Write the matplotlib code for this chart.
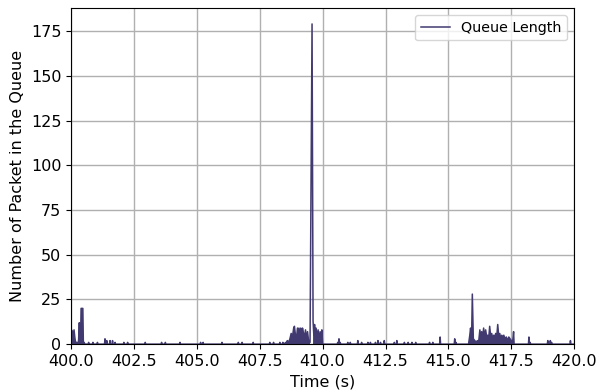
import numpy as np
import matplotlib
matplotlib.use("Agg")
import matplotlib.pyplot as plt

plt.rcParams["font.size"] = 11.5

# bursts of queue activity (time in s, queue length in packets)
burst_t = [
    400.00, 400.02, 400.05, 400.08, 400.12, 400.15, 400.18, 400.22, 400.26,
    400.30, 400.33, 400.35, 400.38, 400.40, 400.47, 400.49, 400.52, 400.55,
    408.55, 408.60, 408.65, 408.70, 408.75, 408.80, 408.85, 408.88, 408.92,
    408.96, 409.00, 409.03, 409.06, 409.10, 409.13, 409.17, 409.20, 409.24,
    409.28, 409.32, 409.36, 409.40, 409.44, 409.50, 409.58, 409.62, 409.65,
    409.68, 409.71, 409.74, 409.78, 409.82, 409.86, 409.90, 409.94, 409.97,
    410.00,
    415.80, 415.85, 415.88, 415.92, 415.95, 415.99, 416.05, 416.10, 416.15,
    416.20, 416.25, 416.28, 416.32, 416.36, 416.40, 416.44, 416.48, 416.52,
    416.56, 416.60, 416.64, 416.68, 416.72, 416.76, 416.80, 416.84, 416.88,
    416.92, 416.96, 417.00, 417.04, 417.08, 417.12, 417.16, 417.20, 417.25,
    417.30, 417.35, 417.40, 417.45, 417.50, 417.55, 417.59, 417.61,
]
burst_q = [
    6, 8, 7, 5, 8, 4, 1, 1, 0,
    2, 12, 3, 1, 20, 20, 1, 1, 0,
    1, 2, 1, 3, 6, 4, 9, 10, 5,
    3, 9, 4, 9, 5, 9, 3, 9, 6,
    4, 8, 2, 7, 2, 1, 179, 13, 5,
    11, 4, 9, 3, 8, 2, 7, 2, 8,
    0,
    0, 5, 9, 2, 28, 3, 2, 1, 2,
    1, 8, 3, 7, 4, 9, 3, 8, 4,
    5, 3, 10, 4, 6, 3, 5, 4, 6,
    4, 11, 4, 6, 3, 5, 4, 5, 3,
    4, 2, 4, 3, 2, 1, 7, 0,
]

# isolated small blips between the bursts
blip_t = [
    400.70, 400.87, 401.05, 401.35, 401.42, 401.55, 401.65, 401.75, 402.10,
    402.25, 402.95, 403.60, 403.75, 404.33, 405.15, 405.25, 406.00, 406.65,
    406.80, 407.24, 407.90, 408.05, 408.30, 408.42,
    410.60, 410.65, 410.70, 411.00, 411.10, 411.40, 411.55, 411.80, 411.90,
    412.10, 412.20, 412.30, 412.45, 412.85, 412.95, 413.25, 413.40, 413.55,
    413.70, 414.25, 414.38, 414.67, 415.25, 415.30,
    418.20, 418.25, 418.95, 419.05, 419.10, 419.85,
]
blip_q = [
    1, 1, 1, 3, 2, 2, 2, 1, 1,
    1, 1, 1, 1, 1, 1, 1, 1, 1,
    1, 1, 1, 1, 1, 1,
    1, 3, 1, 1, 1, 2, 1, 1, 1,
    1, 2, 1, 2, 1, 2, 1, 1, 1,
    1, 1, 1, 4, 3, 1,
    4, 1, 2, 2, 1, 2,
]

pts = list(zip(burst_t, burst_q))
for t, q in zip(blip_t, blip_q):
    pts += [(t - 0.02, 0), (t, q), (t + 0.02, 0)]
pts.append((420.0, 0))
pts.sort()
time = np.array([p[0] for p in pts])
queue = np.array([p[1] for p in pts], dtype=float)

color = "#403a70"
fig, ax = plt.subplots(figsize=(6.07, 3.92), dpi=100)
ax.plot(time, queue, color=color, lw=1.1, label="Queue Length")
ax.fill_between(time, 0, queue, where=queue < 100, color=color, lw=0)
ax.set_xlim(400, 420)
ax.set_ylim(0, 188)
ax.set_xticks(np.arange(400, 420.1, 2.5))
ax.set_yticks(np.arange(0, 176, 25))
ax.grid(True, color="#b0b0b0", lw=1)
ax.set_axisbelow(True)
ax.set_xlabel("Time (s)")
ax.set_ylabel("Number of Packet in the Queue")
ax.legend(loc="upper right", fontsize=10.3)
plt.subplots_adjust(left=0.117, right=0.946, top=0.980, bottom=0.122)
plt.savefig("out.png", dpi=100)
